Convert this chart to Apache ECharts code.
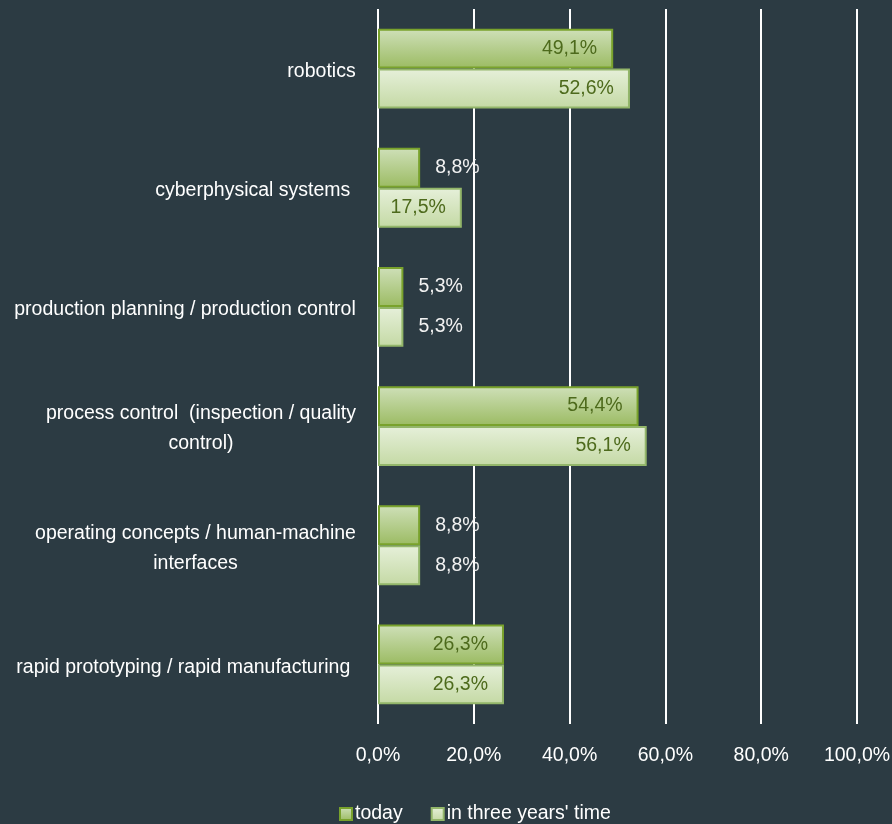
<!DOCTYPE html>
<html>
<head>
<meta charset="utf-8">
<script src="https://cdn.jsdelivr.net/npm/echarts@6/dist/echarts.min.js"></script>
<style>
html,body{margin:0;padding:0;background:#2c3b43;}
#chart{width:892px;height:824px;}
</style>
</head>
<body>
<div id="chart"></div>
<script>
const categories = [
  'robotics',
  'cyberphysical systems ',
  'production planning / production control',
  'process control  (inspection / quality\ncontrol)',
  'operating concepts / human-machine\ninterfaces',
  'rapid prototyping / rapid manufacturing '
];
const seriesNames = ['today', "in three years' time"];
const today = [49.1, 8.8, 5.3, 54.4, 8.8, 26.3];
const threeYears = [52.6, 17.5, 5.3, 56.1, 8.8, 26.3];
const xTicks = [0, 20, 40, 60, 80, 100];

const FONT = "'Liberation Sans', Arial, sans-serif";
const FS = 19.5;

// measure widths for centred multi-line category labels
const cv = document.createElement('canvas').getContext('2d');
cv.font = FS + 'px ' + FONT;
const rich = {};
categories.forEach((c, i) => {
  const w = Math.max(...c.split('\n').map(l => cv.measureText(l).width));
  rich['l' + i] = {width: Math.ceil(w), align: 'center', fontSize: FS, fontFamily: FONT, color: '#ffffff', lineHeight: 30};
});

function fmt(v) { return v.toFixed(1).replace('.', ',') + '%'; }

function makeData(vals) {
  return vals.map(v => ({
    value: v,
    label: v < 12
      ? {position: 'right', distance: 15, color: '#f2f2f2'}
      : {position: 'insideRight', distance: 16, color: '#4d6a1c'}
  }));
}

const chart = echarts.init(document.getElementById('chart'));
chart.setOption({
  backgroundColor: '#2c3b43',
  textStyle: {fontFamily: FONT},
  grid: {left: 378, right: 35, top: 9, bottom: 100, containLabel: false, outerBoundsMode: 'none'},
  legend: {
    data: seriesNames,
    left: 334, top: 799,
    icon: 'rect',
    itemWidth: 12, itemHeight: 12, itemGap: 28,
    textStyle: {color: '#ffffff', fontSize: FS, fontFamily: FONT, padding: [0, 0, 0, -2]}
  },
  xAxis: {
    type: 'value', min: 0, max: 100, interval: 20,
    axisLine: {show: false}, axisTick: {show: false},
    splitLine: {show: true, lineStyle: {color: '#ffffff', width: 2}},
    axisLabel: {
      color: '#ffffff', fontSize: FS, fontFamily: FONT, margin: 22,
      formatter: v => xTicks.includes(v) ? fmt(v) : ''
    }
  },
  yAxis: {
    type: 'category', data: categories, inverse: true,
    axisLine: {show: false}, axisTick: {show: false},
    axisLabel: {
      margin: 22, fontSize: FS, fontFamily: FONT, color: '#ffffff',
      padding: [6, 0, 0, 0],
      formatter: (val, idx) => {
        const k = 'l' + categories.indexOf(val);
        return val.split('\n').map(l => '{' + k + '|' + l + '}').join('\n');
      },
      rich: rich
    }
  },
  series: [
    {
      name: seriesNames[0], type: 'bar', data: makeData(today),
      barGap: '0%', barCategoryGap: '33%',
      itemStyle: {
        color: new echarts.graphic.LinearGradient(0, 0, 0, 1, [
          {offset: 0, color: '#cfe0b9'}, {offset: 1, color: '#9bbb62'}
        ]),
        borderColor: '#79a22c', borderWidth: 2
      },
      label: {show: true, fontSize: FS, fontFamily: FONT, formatter: p => fmt(p.value)}
    },
    {
      name: seriesNames[1], type: 'bar', data: makeData(threeYears),
      barGap: '0%', barCategoryGap: '33%',
      itemStyle: {
        color: new echarts.graphic.LinearGradient(0, 0, 0, 1, [
          {offset: 0, color: '#e6f0da'}, {offset: 1, color: '#c4d9a4'}
        ]),
        borderColor: '#93b66a', borderWidth: 2
      },
      label: {show: true, fontSize: FS, fontFamily: FONT, formatter: p => fmt(p.value)}
    }
  ]
});
</script>
</body>
</html>
